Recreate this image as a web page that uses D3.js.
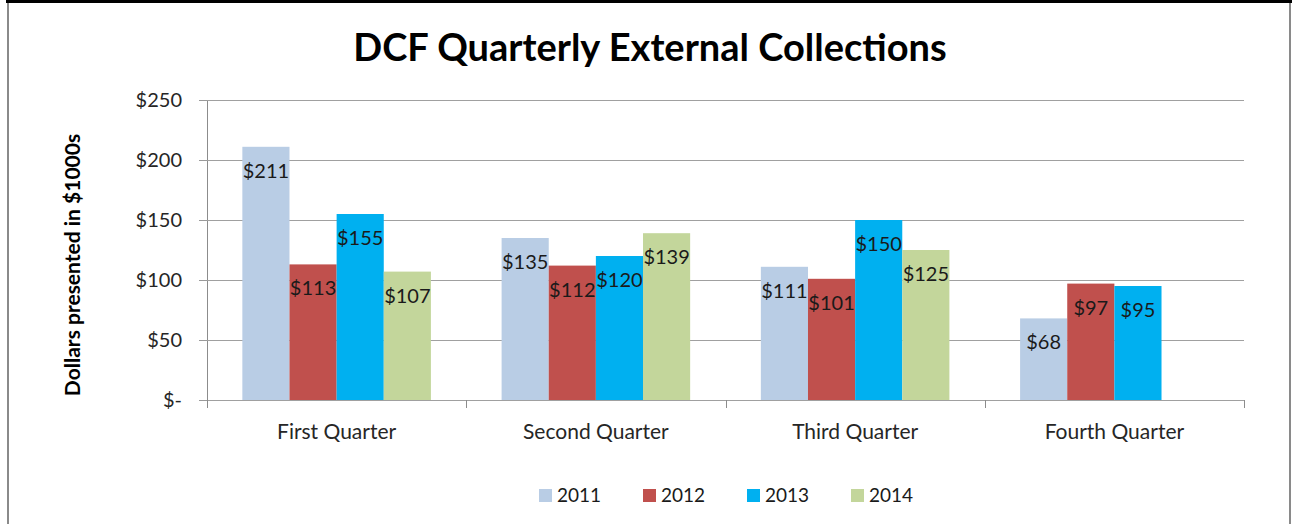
<!DOCTYPE html>
<html>
<head>
<meta charset="utf-8">
<script src="https://cdn.jsdelivr.net/npm/d3@7"></script>
<style>
  html, body { margin: 0; padding: 0; background: #fff; }
  svg { display: block; font-family: Lato, "Open Sans", sans-serif; }
</style>
</head>
<body>
<div id="chart"></div>
<script>
// ── Data ───────────────────────────────────────────────────────────────────
const quarters = ["First Quarter", "Second Quarter", "Third Quarter", "Fourth Quarter"];
const years    = ["2011", "2012", "2013", "2014"];
const values2011 = [211, 135, 111, 68];
const values2012 = [113, 112, 101, 97];
const values2013 = [155, 120, 150, 95];
const values2014 = [107, 139, 125, null];
const yTicks = [0, 50, 100, 150, 200, 250];
const colors = ["#B9CDE5", "#C0504D", "#00B0F0", "#C3D69B"];

const series = [values2011, values2012, values2013, values2014];

// ── Layout ─────────────────────────────────────────────────────────────────
const W = 1294, H = 524;
const PLOT = { left: 207, right: 1244, top: 100, bottom: 400 };

const svg = d3.select("#chart").append("svg")
  .attr("width", W).attr("height", H);

// outer frame
svg.append("rect").attr("x", 6).attr("y", 0).attr("width", 1286).attr("height", 3).attr("fill", "#000");
svg.append("rect").attr("x", 7).attr("y", 3).attr("width", 2).attr("height", H).attr("fill", "#8a8a8a");
svg.append("rect").attr("x", 1289).attr("y", 3).attr("width", 2).attr("height", H).attr("fill", "#8a8a8a");

// ── Scales ─────────────────────────────────────────────────────────────────
const x0 = d3.scaleBand().domain(quarters).range([PLOT.left, PLOT.right]).padding(0);
const x1 = d3.scaleBand().domain(years).range([0, x0.bandwidth()])
  .paddingInner(0).paddingOuter(0.75);
const y = d3.scaleLinear().domain([0, 250]).range([PLOT.bottom, PLOT.top]);
const color = d3.scaleOrdinal().domain(years).range(colors);

const fmt = v => v === 0 ? "$-" : "$" + v;

// ── Gridlines + y axis ─────────────────────────────────────────────────────
const yAxis = svg.append("g")
  .attr("transform", `translate(${PLOT.left},0)`)
  .call(d3.axisLeft(y).tickValues(yTicks).tickFormat(fmt).tickSize(8).tickPadding(17));
yAxis.select(".domain").attr("stroke", "#8c8c8c").attr("d", `M0.5,${PLOT.top}V${PLOT.bottom + 8}`);
yAxis.selectAll(".tick line").attr("stroke", "#9a9a9a");
yAxis.selectAll(".tick text").attr("font-size", 20).attr("fill", "#262626")
  .attr("font-family", "Lato, sans-serif");

svg.append("g").selectAll("line")
  .data(yTicks)
  .join("line")
  .attr("x1", PLOT.left).attr("x2", PLOT.right)
  .attr("y1", d => Math.round(y(d)) + 0.5).attr("y2", d => Math.round(y(d)) + 0.5)
  .attr("stroke", "#a0a0a0").attr("stroke-width", 1.2);

// ── x axis (category boundaries) ───────────────────────────────────────────
const bounds = quarters.map(q => x0(q)).concat([PLOT.right]);
svg.append("g").selectAll("line")
  .data(bounds)
  .join("line")
  .attr("x1", d => Math.round(d) + 0.5).attr("x2", d => Math.round(d) + 0.5)
  .attr("y1", PLOT.bottom).attr("y2", PLOT.bottom + 8)
  .attr("stroke", "#8c8c8c");

svg.append("g").selectAll("text")
  .data(quarters)
  .join("text")
  .attr("x", d => x0(d) + x0.bandwidth() / 2)
  .attr("y", 439)
  .attr("text-anchor", "middle")
  .attr("font-size", 21)
  .attr("fill", "#262626")
  .text(d => d);

// ── Bars ───────────────────────────────────────────────────────────────────
const cells = [];
quarters.forEach((q, qi) => {
  years.forEach((yr, si) => {
    const v = series[si][qi];
    if (v != null) cells.push({ q, yr, v });
  });
});

svg.append("g").selectAll("rect")
  .data(cells)
  .join("rect")
  .attr("x", d => x0(d.q) + x1(d.yr))
  .attr("y", d => y(d.v))
  .attr("width", x1.bandwidth())
  .attr("height", d => y(0) - y(d.v))
  .attr("fill", d => color(d.yr));

svg.append("g").selectAll("text")
  .data(cells)
  .join("text")
  .attr("x", d => x0(d.q) + x1(d.yr) + x1.bandwidth() / 2)
  .attr("y", d => y(d.v) + 24)
  .attr("dy", "0.35em")
  .attr("text-anchor", "middle")
  .attr("font-size", 20)
  .attr("fill", "#1a1a1a")
  .text(d => fmt(d.v));

// ── Titles ─────────────────────────────────────────────────────────────────
svg.append("text")
  .attr("x", 650).attr("y", 61)
  .attr("text-anchor", "middle")
  .attr("font-size", 38).attr("font-weight", "bold")
  .attr("fill", "#000")
  .text("DCF Quarterly External Collections");

svg.append("text")
  .attr("transform", "translate(80,265) rotate(-90)")
  .attr("text-anchor", "middle")
  .attr("font-size", 21).attr("font-weight", "bold")
  .attr("fill", "#000")
  .text("Dollars presented in $1000s");

// ── Legend ─────────────────────────────────────────────────────────────────
const legendX = d3.scalePoint().domain(years).range([539, 851]);
const legend = svg.append("g").selectAll("g")
  .data(years)
  .join("g")
  .attr("transform", d => `translate(${legendX(d)},489)`);
legend.append("rect")
  .attr("width", 13).attr("height", 13)
  .attr("fill", d => color(d));
legend.append("text")
  .attr("x", 18).attr("y", 12.5)
  .attr("font-size", 19)
  .attr("fill", "#1a1a1a")
  .text(d => d);
</script>
</body>
</html>
